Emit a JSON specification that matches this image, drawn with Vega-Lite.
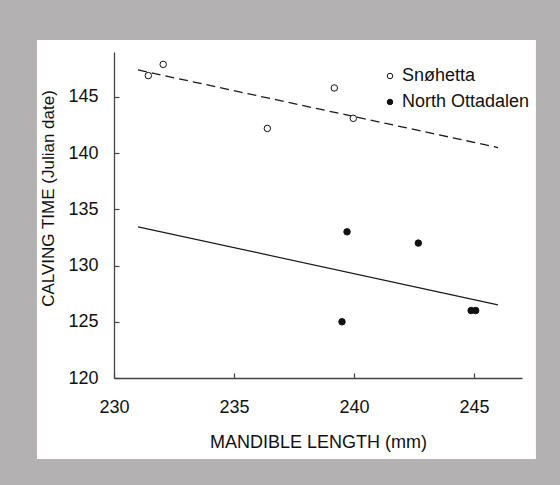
{
  "$schema": "https://vega.github.io/schema/vega-lite/v6.json",
  "width": 408,
  "height": 326,
  "autosize": {"type": "none"},
  "padding": {"left": 114, "top": 52, "right": 38, "bottom": 107},
  "background": "#b4b1b3",
  "config": {
    "view": {"stroke": null},
    "font": "Liberation Sans",
    "axis": {
      "grid": false,
      "labelFlush": false,
      "domainColor": "#444444",
      "domainWidth": 1.3,
      "tickColor": "#444444",
      "tickWidth": 1.2,
      "tickSize": -5,
      "labelColor": "#111111",
      "labelFontSize": 18,
      "labelFont": "Liberation Sans",
      "titleFont": "Liberation Sans",
      "titleColor": "#111111",
      "titleFontWeight": "normal"
    }
  },
  "datasets": {
    "points": [
      {"site": "Snøhetta", "length": 231.43, "calving": 146.9},
      {"site": "Snøhetta", "length": 232.05, "calving": 147.9},
      {"site": "Snøhetta", "length": 236.39, "calving": 142.2},
      {"site": "Snøhetta", "length": 239.18, "calving": 145.8},
      {"site": "Snøhetta", "length": 239.97, "calving": 143.1},
      {"site": "North Ottadalen", "length": 239.71, "calving": 133.0},
      {"site": "North Ottadalen", "length": 242.68, "calving": 132.0},
      {"site": "North Ottadalen", "length": 239.5, "calving": 125.0},
      {"site": "North Ottadalen", "length": 244.88, "calving": 126.0},
      {"site": "North Ottadalen", "length": 245.07, "calving": 126.0}
    ],
    "fits": [
      {"site": "Snøhetta", "length": 231.0, "calving": 147.4},
      {"site": "Snøhetta", "length": 246.0, "calving": 140.5},
      {"site": "North Ottadalen", "length": 231.0, "calving": 133.45},
      {"site": "North Ottadalen", "length": 246.0, "calving": 126.5}
    ],
    "panel": [{"panel": "white"}]
  },
  "layer": [
    {
      "data": {"name": "panel"},
      "mark": {"type": "rect", "fill": "white", "clip": false, "zindex": 0},
      "encoding": {
        "x": {"datum": 226.79, "type": "quantitative", "scale": {"domain": [230, 247], "nice": false, "zero": false}},
        "x2": {"datum": 247.58},
        "y": {"datum": 150.07, "type": "quantitative", "scale": {"domain": [120, 149], "nice": false, "zero": false}},
        "y2": {"datum": 112.79}
      }
    },
    {
      "data": {"name": "fits"},
      "transform": [{"filter": "datum.site === 'Snøhetta'"}],
      "mark": {"type": "line", "color": "#1a1a1a", "strokeWidth": 1.3, "strokeDash": [9, 5]},
      "encoding": {
        "x": {"field": "length", "type": "quantitative"},
        "y": {"field": "calving", "type": "quantitative"}
      }
    },
    {
      "data": {"name": "fits"},
      "transform": [{"filter": "datum.site === 'North Ottadalen'"}],
      "mark": {"type": "line", "color": "#1a1a1a", "strokeWidth": 1.2},
      "encoding": {
        "x": {"field": "length", "type": "quantitative"},
        "y": {"field": "calving", "type": "quantitative"}
      }
    },
    {
      "data": {"name": "points"},
      "mark": {"type": "point", "filled": true, "shape": "circle", "size": 42, "stroke": "#111111", "strokeWidth": 1, "opacity": 1},
      "encoding": {
        "x": {
          "field": "length",
          "type": "quantitative",
          "axis": {
            "zindex": 5,
            "values": [230, 235, 240, 245],
            "labelPadding": 25,
            "title": "MANDIBLE LENGTH (mm)",
            "titleFontSize": 18,
            "titlePadding": 17
          }
        },
        "y": {
          "field": "calving",
          "type": "quantitative",
          "axis": {
            "zindex": 5,
            "values": [120, 125, 130, 135, 140, 145],
            "labelPadding": 21,
            "title": "CALVING TIME (Julian date)",
            "titleFontSize": 17,
            "titlePadding": 10,
            "titleY": 146
          }
        },
        "fill": {
          "field": "site",
          "type": "nominal",
          "scale": {"domain": ["Snøhetta", "North Ottadalen"], "range": ["white", "#111111"]},
          "legend": {
            "zindex": 5,
            "title": null,
            "orient": "none",
            "legendX": 267,
            "legendY": 15,
            "labelFontSize": 18,
            "labelColor": "#111111",
            "labelFont": "Liberation Sans",
            "symbolType": "circle",
            "symbolSize": 30,
            "symbolStrokeColor": "#111111",
            "symbolStrokeWidth": 1,
            "rowPadding": 8,
            "labelOffset": 3,
            "padding": 0
          }
        }
      }
    }
  ]
}
